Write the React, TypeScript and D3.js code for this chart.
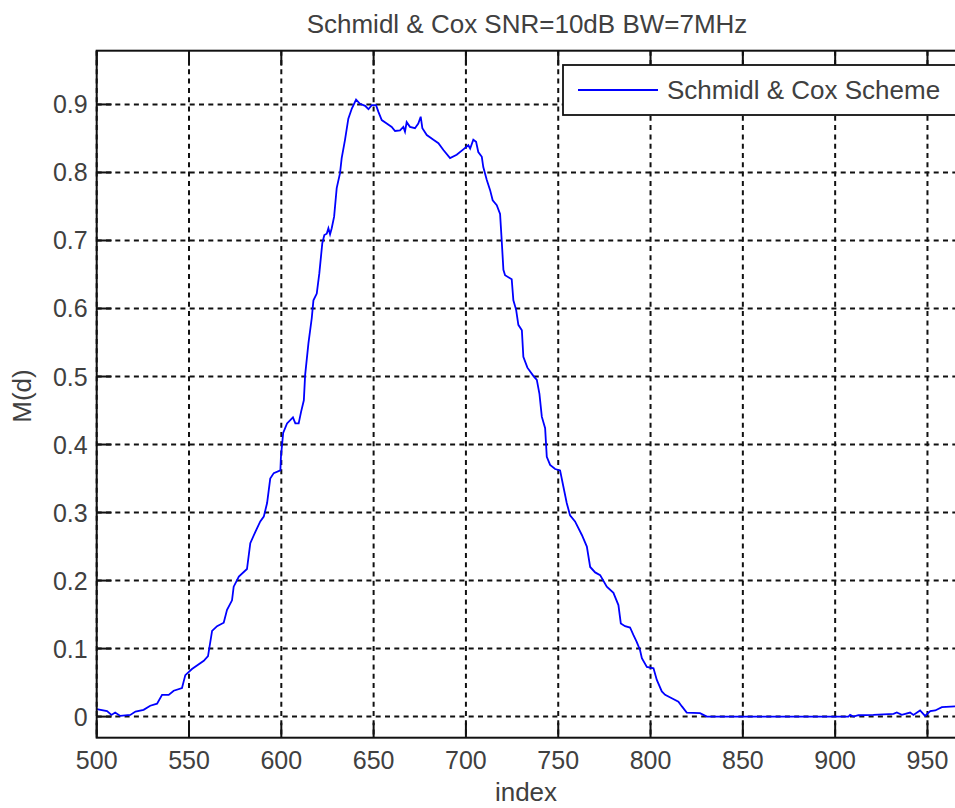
import { useEffect, useRef } from 'react';
import * as d3 from 'd3';

const TITLE = 'Schmidl & Cox SNR=10dB BW=7MHz';
const X_LABEL = 'index';
const Y_LABEL = 'M(d)';
const LEGEND_LABEL = 'Schmidl & Cox Scheme';

const X_TICKS = [500, 550, 600, 650, 700, 750, 800, 850, 900, 950];
const Y_TICKS = [0, 0.1, 0.2, 0.3, 0.4, 0.5, 0.6, 0.7, 0.8, 0.9];

// sample index
const INDEX = [
  500, 505.6, 508, 510, 512.8, 518.2, 521, 525.4, 529, 532.7,
  535.4, 539, 541.7, 546.2, 548, 551.6, 558, 560.3, 562.5, 565.2,
  568.8, 570.6, 573.3, 574.2, 577, 581.4, 583.2, 586, 588.6, 590.5,
  592.3, 594, 595.9, 599.5, 599.8, 601, 603.1, 606.3, 607.6, 609.4,
  610.7, 612.2, 612.9, 614.7, 616.5, 617.4, 619.2, 620.6, 622.2, 623.3,
  624.6, 625.5, 626.4, 627.3, 628.6, 630, 631.8, 632.7, 634.5, 636.3,
  638.2, 640.5, 642.6, 645.4, 647.2, 649, 651.3, 652.6, 654.4, 657.1,
  659.8, 661.6, 664.3, 666.1, 667, 667.9, 669.7, 672.4, 674.2, 675.5,
  676.4, 678.8, 682.4, 685.1, 687.8, 691.4, 695, 698.6, 701.3, 702.3,
  704, 705.5, 706.7, 708.6, 709.4, 711.3, 713.1, 714.5, 716.7, 718.5,
  719.4, 720.3, 721.2, 724.8, 725.7, 727.2, 728.4, 730.3, 731.1, 733.3,
  736.5, 738.4, 739.8, 741.1, 742.9, 743.8, 745.6, 748.3, 751, 752.8,
  754.6, 756.4, 759.1, 762.8, 765.5, 767.3, 770, 772.7, 776.3, 779.9,
  782.6, 783.9, 786.2, 788.9, 790.7, 792.5, 794.3, 795.3, 798, 801.6,
  803.4, 806.1, 807.9, 811.5, 815.1, 817, 819.6, 826.8, 830.5, 907.2,
  908.1, 909.9, 912.6, 920.7, 931.6, 933.4, 936.1, 940.6, 942.4, 946,
  948.7, 951.5, 954.2, 957.8, 965,
];

// M(d) at each sample
const M_D = [
  0.011, 0.008, 0.0025, 0.006, 0.001, 0.0025, 0.0074, 0.01, 0.016, 0.019,
  0.032, 0.032, 0.038, 0.042, 0.061, 0.07, 0.082, 0.089, 0.126, 0.133,
  0.138, 0.157, 0.171, 0.191, 0.206, 0.217, 0.255, 0.272, 0.287, 0.294,
  0.314, 0.35, 0.358, 0.362, 0.382, 0.417, 0.431, 0.44, 0.431, 0.431,
  0.448, 0.465, 0.502, 0.549, 0.586, 0.612, 0.622, 0.652, 0.696, 0.708,
  0.71, 0.718, 0.709, 0.718, 0.735, 0.777, 0.799, 0.821, 0.848, 0.879,
  0.894, 0.907, 0.901, 0.898, 0.893, 0.899, 0.899, 0.889, 0.877, 0.872,
  0.867, 0.861, 0.862, 0.867, 0.86, 0.874, 0.867, 0.865, 0.872, 0.882,
  0.865, 0.855, 0.848, 0.843, 0.833, 0.821, 0.826, 0.834, 0.84, 0.835,
  0.848, 0.845, 0.83, 0.823, 0.808, 0.789, 0.774, 0.759, 0.752, 0.739,
  0.699, 0.657, 0.649, 0.643, 0.612, 0.598, 0.576, 0.568, 0.529, 0.513,
  0.501, 0.495, 0.475, 0.441, 0.424, 0.382, 0.37, 0.364, 0.362, 0.338,
  0.314, 0.296, 0.287, 0.267, 0.25, 0.22, 0.212, 0.208, 0.191, 0.182,
  0.164, 0.137, 0.133, 0.131, 0.12, 0.11, 0.098, 0.086, 0.073, 0.071,
  0.054, 0.037, 0.032, 0.027, 0.022, 0.015, 0.006, 0.005, 0, 0,
  0.0025, 0, 0.002, 0.0025, 0.004, 0.006, 0.0025, 0.006, 0.0025, 0.009,
  0.001, 0.008, 0.009, 0.014, 0.015,
];

export default function App() {
  const ref = useRef<SVGSVGElement>(null);

  useEffect(() => {
    if (!ref.current) return;
    const svg = d3.select(ref.current);
    svg.selectAll('*').remove();

    const width = 955;
    const height = 808;
    const left = 96.7, top = 50.7, bottom = 737.7, right = 957;
    const font = '"Liberation Sans", Arial, sans-serif';
    const textColor = '#404040';

    const x = d3.scaleLinear().domain([500, 966]).range([left, right]);
    const y = d3.scaleLinear().domain([-0.031, 0.979]).range([bottom, top]);

    svg.attr('width', width).attr('height', height);
    svg.append('rect').attr('width', width).attr('height', height).attr('fill', '#fff');

    svg.append('defs').append('clipPath').attr('id', 'plot-clip')
      .append('rect').attr('x', left).attr('y', top)
      .attr('width', right - left).attr('height', bottom - top);

    // grid
    const grid = svg.append('g').attr('stroke', '#111').attr('stroke-width', 2)
      .attr('stroke-dasharray', '5,4.3');
    grid.selectAll('.gx').data(X_TICKS).enter().append('line')
      .attr('x1', d => x(d)).attr('x2', d => x(d)).attr('y1', top).attr('y2', bottom);
    grid.selectAll('.gy').data(Y_TICKS).enter().append('line')
      .attr('x1', left).attr('x2', right).attr('y1', d => y(d)).attr('y2', d => y(d));

    // data line
    const line = d3.line<number>().x((_, i) => x(INDEX[i])).y(d => y(d));
    svg.append('path')
      .datum(M_D)
      .attr('clip-path', 'url(#plot-clip)')
      .attr('d', line)
      .attr('fill', 'none')
      .attr('stroke', '#0000ff')
      .attr('stroke-width', 1.8);

    // axes box and inward ticks
    svg.append('rect').attr('x', left).attr('y', top)
      .attr('width', right - left).attr('height', bottom - top)
      .attr('fill', 'none').attr('stroke', '#111').attr('stroke-width', 2);
    const tickLen = 15;
    const ticks = svg.append('g').attr('stroke', '#111').attr('stroke-width', 2);
    X_TICKS.forEach(t => {
      ticks.append('line').attr('x1', x(t)).attr('x2', x(t)).attr('y1', bottom).attr('y2', bottom - tickLen);
      ticks.append('line').attr('x1', x(t)).attr('x2', x(t)).attr('y1', top).attr('y2', top + tickLen);
    });
    Y_TICKS.forEach(t => {
      ticks.append('line').attr('x1', left).attr('x2', left + tickLen).attr('y1', y(t)).attr('y2', y(t));
    });

    // tick labels
    svg.append('g').selectAll('text').data(X_TICKS).enter().append('text')
      .attr('x', d => x(d)).attr('y', 769)
      .attr('text-anchor', 'middle')
      .attr('font-family', font).attr('font-size', 25).attr('fill', textColor)
      .text(d => d3.format('d')(d));
    svg.append('g').selectAll('text').data(Y_TICKS).enter().append('text')
      .attr('x', left - 9).attr('y', d => y(d)).attr('dy', '0.36em')
      .attr('text-anchor', 'end')
      .attr('font-family', font).attr('font-size', 25).attr('fill', textColor)
      .text(d => (d === 0 ? '0' : d3.format('.1f')(d)));

    // title and axis labels
    svg.append('text').attr('x', 527).attr('y', 33).attr('text-anchor', 'middle')
      .attr('font-family', font).attr('font-size', 26).attr('fill', textColor).text(TITLE);
    svg.append('text').attr('x', 526).attr('y', 801).attr('text-anchor', 'middle')
      .attr('font-family', font).attr('font-size', 26).attr('fill', textColor).text(X_LABEL);
    svg.append('text').attr('transform', 'translate(31,396) rotate(-90)')
      .attr('text-anchor', 'middle')
      .attr('font-family', font).attr('font-size', 26).attr('fill', textColor).text(Y_LABEL);

    // legend
    const lg = svg.append('g');
    lg.append('rect').attr('x', 563).attr('y', 65).attr('width', 420).attr('height', 50)
      .attr('fill', '#fff').attr('stroke', '#111').attr('stroke-width', 1.8);
    lg.append('line').attr('x1', 578).attr('x2', 658).attr('y1', 90).attr('y2', 90)
      .attr('stroke', '#0000ff').attr('stroke-width', 1.8);
    lg.append('text').attr('x', 667).attr('y', 99)
      .attr('font-family', font).attr('font-size', 26).attr('fill', textColor).text(LEGEND_LABEL);
  }, []);

  return (
    <div style={{ position: 'fixed', left: 0, top: 0 }}>
      <svg ref={ref} style={{ display: 'block' }} />
    </div>
  );
}
